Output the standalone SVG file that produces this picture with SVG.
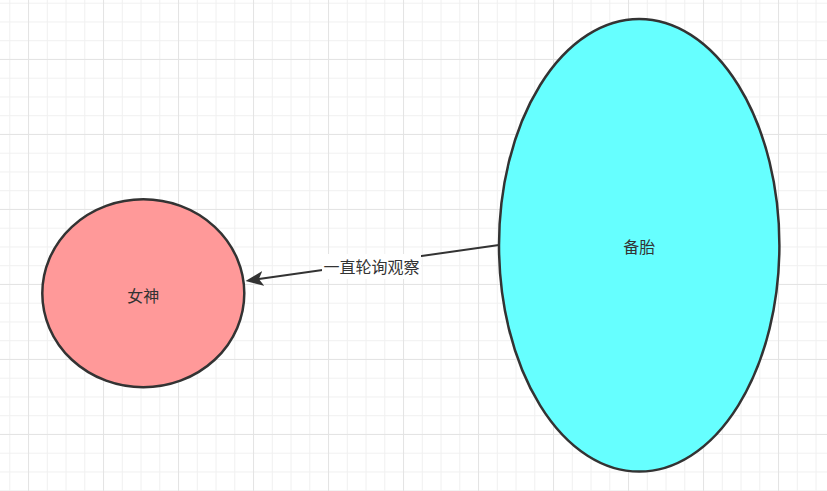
<svg xmlns="http://www.w3.org/2000/svg" width="827" height="491" viewBox="0 0 827 491">
  <style>
    .node { stroke: #333333; stroke-width: 2.5; }
    .lbl { font-family: "Noto Sans CJK SC", "Noto Sans", sans-serif; font-size: 16px; fill: #333333; text-anchor: middle; dominant-baseline: central; }
    .edge { stroke: #333333; stroke-width: 2; fill: none; }
  </style>
  <defs>
    <pattern id="minor" patternUnits="userSpaceOnUse" x="9.3" y="2.7" width="18.75" height="18.75">
      <path d="M0.5,0 V18.75 M0,0.5 H18.75" stroke="#f0f0f0" stroke-width="1" fill="none"/>
    </pattern>
    <pattern id="major" patternUnits="userSpaceOnUse" x="28.05" y="58.95" width="75" height="75">
      <path d="M0.5,0 V75 M0,0.5 H75" stroke="#e3e3e3" stroke-width="1" fill="none"/>
    </pattern>
    <marker id="arrow" markerUnits="userSpaceOnUse" viewBox="0 0 18 15" refX="4.5" refY="7.5" markerWidth="18" markerHeight="15" orient="auto">
      <path d="M18,7.5 L0,0 L4.5,7.5 L0,15 Z" fill="#333333"/>
    </marker>
  </defs>
  <rect width="827" height="491" fill="#ffffff"/>
  <rect width="827" height="491" fill="url(#minor)"/>
  <rect width="827" height="491" fill="url(#major)"/>

  <g id="connectors">
    <line class="edge" x1="499" y1="245" x2="258.9" y2="279.1" marker-end="url(#arrow)"/>
    <rect x="322" y="254" width="99" height="25" fill="#ffffff"/>
    <text class="lbl" x="371.5" y="266">一直轮询观察</text>
  </g>

  <g id="node-nvshen">
    <ellipse class="node" cx="143.3" cy="293.3" rx="101" ry="94" fill="#ff9999"/>
    <text class="lbl" x="143.3" y="295">女神</text>
  </g>

  <g id="node-beitai">
    <ellipse class="node" cx="639.2" cy="245.3" rx="140.2" ry="226.3" fill="#66ffff"/>
    <text class="lbl" x="639.3" y="245.5">备胎</text>
  </g>
</svg>
